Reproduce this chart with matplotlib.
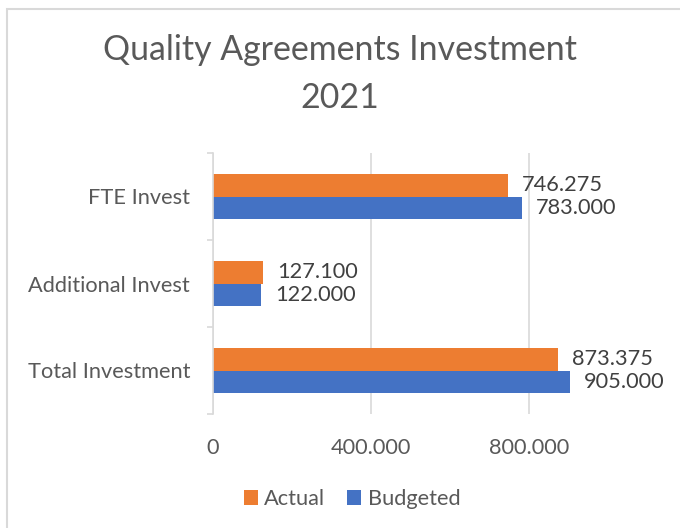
import matplotlib.pyplot as plt
from matplotlib.patches import Rectangle
from matplotlib.ticker import FuncFormatter
import numpy as np

# data
categories = ["Total Investment", "Additional Invest", "FTE Invest"]
actual = [873375, 127100, 746275]
budgeted = [905000, 122000, 783000]
x_ticks = [0, 400000, 800000]

orange = "#ED7D31"
blue = "#4472C4"
txt = "#595959"
fs = 15.7

plt.rcParams['font.family'] = ['Lato', 'DejaVu Sans']


def fmt(v, pos=None):
  # european style thousands separator
  return f"{v:,.0f}".replace(",", ".")


fig = plt.figure(figsize=(6.8, 5.28), dpi=100)
fig.patches.append(Rectangle((7/680, -0.1), 1.0, 1 - 9/528 + 0.1, transform=fig.transFigure,
                             fill=False, edgecolor="#d9d9d9", linewidth=1.5))

ax = fig.add_axes([213/680, 1 - 414/528, 395/680, 261/528])
y = np.arange(len(categories))
h = 0.259
b1 = ax.barh(y + h/2, actual, height=h, color=orange, label="Actual")
b2 = ax.barh(y - h/2, budgeted, height=h, color=blue, label="Budgeted")

for bars, vals in ((b1, actual), (b2, budgeted)):
  for r, v in zip(bars, vals):
    ax.annotate(fmt(v), (v, r.get_y() + r.get_height()/2), xytext=(10, 0),
                textcoords="offset points", va="center", ha="left",
                fontsize=fs, color="#404040")

ax.set_xlim(0, 1000000)
ax.set_ylim(-0.5, 2.5)
ax.set_xticks(x_ticks)
ax.xaxis.set_major_formatter(FuncFormatter(fmt))
ax.grid(axis="x", color="#d9d9d9", linewidth=1.2)
ax.set_axisbelow(True)
for s in ["top", "right", "bottom"]:
  ax.spines[s].set_visible(False)
ax.spines["left"].set_color("#d9d9d9")
ax.spines["left"].set_linewidth(1.2)

ax.set_yticks(y)
ax.set_yticklabels(categories)
ax.set_yticks([-0.5, 0.5, 1.5, 2.5], minor=True)
ax.tick_params(axis="y", which="major", length=0, pad=16.5, labelsize=fs, labelcolor=txt)
ax.tick_params(axis="y", which="minor", length=4, color="#d9d9d9", width=1.2)
ax.tick_params(axis="x", length=0, pad=17, labelsize=fs, labelcolor=txt)

fig.text(0.5, 1 - 50/528, "Quality Agreements Investment", ha="center", va="center",
         fontsize=24.4, color=txt)
fig.text(0.5, 1 - 98/528, "2021", ha="center", va="center", fontsize=24.4, color=txt)

fig.legend(handles=[b1, b2], loc="center", bbox_to_anchor=(352/680, 1 - 499/528),
           ncol=2, frameon=False, fontsize=fs, handlelength=0.65, handleheight=0.65,
           handletextpad=0.3, columnspacing=1.0, labelcolor=txt)

fig.savefig("out.png", dpi=100)
